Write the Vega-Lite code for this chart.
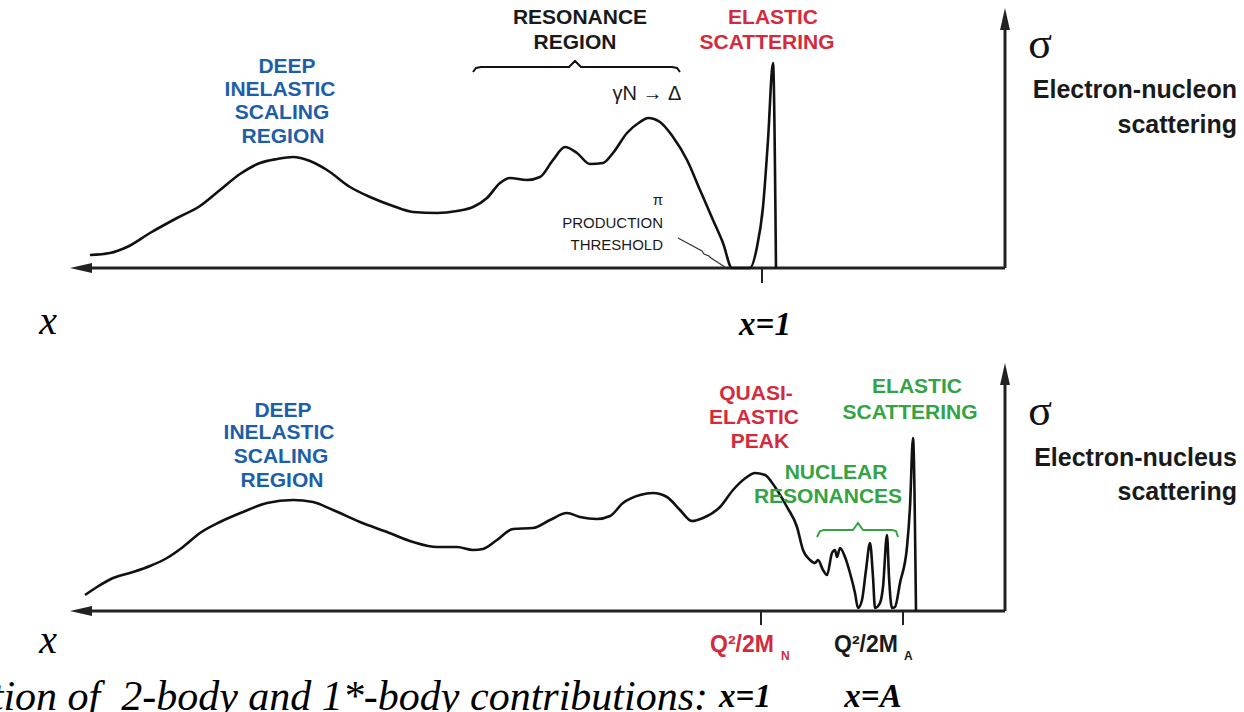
{
  "$schema": "https://vega.github.io/schema/vega-lite/v6.json",
  "padding": 0,
  "spacing": 0,
  "background": "white",
  "config": {"view": {"stroke": null}, "concat": {"spacing": 0}},
  "vconcat": [
    {
      "width": 1244,
      "height": 345,
      "encoding": {
        "x": {"field": "x", "type": "quantitative", "scale": {"domain": [0, 1244], "nice": false, "zero": false}, "axis": null},
        "y": {"field": "y", "type": "quantitative", "scale": {"domain": [0, 345], "nice": false, "zero": false}, "axis": null}
      },
      "layer": [
        {
          "data": {"values": [
            {"x": 82, "y": 77, "x2": 1005, "y2": 77},
            {"x": 1005, "y": 77, "x2": 1005, "y2": 326}
          ]},
          "mark": {"type": "rule", "color": "#222", "strokeWidth": 3},
          "encoding": {"x2": {"field": "x2"}, "y2": {"field": "y2"}}
        },
        {
          "data": {"values": [
            {"x": 762, "y": 77, "x2": 762, "y2": 62}
          ]},
          "mark": {"type": "rule", "color": "#222", "strokeWidth": 2},
          "encoding": {"x2": {"field": "x2"}, "y2": {"field": "y2"}}
        },
        {
          "data": {"values": [
            {"x": 81, "y": 77, "dir": "left"},
            {"x": 1005, "y": 326, "dir": "up"}
          ]},
          "mark": {"type": "point", "filled": true, "color": "#222", "opacity": 1, "size": 484},
          "encoding": {
            "shape": {"field": "dir", "type": "nominal", "scale": {"domain": ["left", "up"], "range": ["M-1,0L1,-0.45L1,0.45Z", "M0,-1L-0.45,1L0.45,1Z"]}, "legend": null}
          }
        },
        {
          "data": {"values": [
            {"x": 90, "y": 90}, {"x": 110, "y": 92}, {"x": 127, "y": 98}, {"x": 150, "y": 112},
            {"x": 177, "y": 127}, {"x": 200, "y": 139}, {"x": 220, "y": 155}, {"x": 240, "y": 171},
            {"x": 260, "y": 182}, {"x": 277, "y": 186}, {"x": 293, "y": 188}, {"x": 310, "y": 184},
            {"x": 327, "y": 175}, {"x": 350, "y": 158}, {"x": 370, "y": 148}, {"x": 393, "y": 139},
            {"x": 413, "y": 133}, {"x": 437, "y": 132}, {"x": 457, "y": 134}, {"x": 473, "y": 138},
            {"x": 487, "y": 147}, {"x": 500, "y": 162}, {"x": 510, "y": 167}, {"x": 527, "y": 165},
            {"x": 540, "y": 168}, {"x": 553, "y": 185}, {"x": 565, "y": 198}, {"x": 577, "y": 192},
            {"x": 590, "y": 181}, {"x": 603, "y": 182}, {"x": 613, "y": 192}, {"x": 627, "y": 212},
            {"x": 640, "y": 223}, {"x": 648, "y": 227}, {"x": 660, "y": 223}, {"x": 673, "y": 208},
            {"x": 687, "y": 185}, {"x": 700, "y": 155}, {"x": 713, "y": 125}, {"x": 723, "y": 102},
            {"x": 732, "y": 77}, {"x": 750, "y": 77}, {"x": 757, "y": 98}, {"x": 763, "y": 138},
            {"x": 768, "y": 205}, {"x": 773, "y": 282}, {"x": 776, "y": 77}
          ]},
          "mark": {"type": "line", "color": "#111", "strokeWidth": 2.6, "strokeJoin": "round", "interpolate": "monotone"}
        },
        {
          "data": {"values": [
            {"x": 473, "y": 273}, {"x": 476, "y": 277}, {"x": 481, "y": 278}, {"x": 569, "y": 278},
            {"x": 575, "y": 284}, {"x": 581, "y": 278}, {"x": 672, "y": 278}, {"x": 677, "y": 277},
            {"x": 680, "y": 273}
          ]},
          "mark": {"type": "line", "color": "#111", "strokeWidth": 2}
        },
        {
          "data": {"values": [
            {"x": 678, "y": 107}, {"x": 702, "y": 94}, {"x": 704, "y": 91}, {"x": 709, "y": 89},
            {"x": 711, "y": 87}, {"x": 725, "y": 78}
          ]},
          "mark": {"type": "line", "color": "#333", "strokeWidth": 1.2}
        },
        {
          "data": {"values": [
            {"x": 287, "y": 278, "t": "DEEP", "k": "dis"},
            {"x": 280, "y": 255, "t": "INELASTIC", "k": "dis"},
            {"x": 282, "y": 232, "t": "SCALING", "k": "dis"},
            {"x": 283, "y": 208, "t": "REGION", "k": "dis"},
            {"x": 580, "y": 327, "t": "RESONANCE", "k": "res"},
            {"x": 575, "y": 302, "t": "REGION", "k": "res"},
            {"x": 773, "y": 327, "t": "ELASTIC", "k": "el"},
            {"x": 767, "y": 302, "t": "SCATTERING", "k": "el"}
          ]},
          "mark": {"type": "text", "font": "Liberation Sans", "fontWeight": "bold", "fontSize": 21, "align": "center", "baseline": "middle"},
          "encoding": {
            "text": {"field": "t"},
            "color": {"field": "k", "type": "nominal", "scale": {"domain": ["dis", "res", "el", "qe", "nuc", "n", "a"], "range": ["#1d5ea8", "#1a1a1a", "#d42a3c", "#d42a3c", "#33a345", "#d42a3c", "#1a1a1a"]}, "legend": null}
          }
        },
        {
          "data": {"values": [{"x": 647, "y": 251, "t": "γN → Δ"}]},
          "mark": {"type": "text", "font": "Liberation Sans", "fontSize": 20, "align": "center", "baseline": "middle", "color": "#1a1a1a"},
          "encoding": {"text": {"field": "t"}}
        },
        {
          "data": {"values": [
            {"x": 663, "y": 145, "t": "π"},
            {"x": 663, "y": 122, "t": "PRODUCTION"},
            {"x": 663, "y": 100, "t": "THRESHOLD"}
          ]},
          "mark": {"type": "text", "font": "Liberation Sans", "fontSize": 15, "align": "right", "baseline": "middle", "color": "#1a1a1a"},
          "encoding": {"text": {"field": "t"}}
        },
        {
          "data": {"values": [{"x": 1040, "y": 300, "t": "σ"}]},
          "mark": {"type": "text", "font": "Liberation Serif", "fontSize": 44, "align": "center", "baseline": "middle", "color": "#111"},
          "encoding": {"text": {"field": "t"}}
        },
        {
          "data": {"values": [
            {"x": 1237, "y": 255, "t": "Electron-nucleon"},
            {"x": 1237, "y": 220, "t": "scattering"}
          ]},
          "mark": {"type": "text", "font": "Liberation Sans", "fontWeight": "bold", "fontSize": 25, "align": "right", "baseline": "middle", "color": "#1a1a1a"},
          "encoding": {"text": {"field": "t"}}
        },
        {
          "data": {"values": [{"x": 48, "y": 23, "t": "x"}]},
          "mark": {"type": "text", "font": "Liberation Serif", "fontStyle": "italic", "fontSize": 40, "align": "center", "baseline": "middle", "color": "#000"},
          "encoding": {"text": {"field": "t"}}
        },
        {
          "data": {"values": [{"x": 765, "y": 20, "t": "x=1"}]},
          "mark": {"type": "text", "font": "Liberation Serif", "fontStyle": "italic", "fontWeight": "bold", "fontSize": 33, "align": "center", "baseline": "middle", "color": "#000"},
          "encoding": {"text": {"field": "t"}}
        }
      ]
    },
    {
      "width": 1244,
      "height": 367,
      "encoding": {
        "x": {"field": "x", "type": "quantitative", "scale": {"domain": [0, 1244], "nice": false, "zero": false}, "axis": null},
        "y": {"field": "y", "type": "quantitative", "scale": {"domain": [0, 367], "nice": false, "zero": false}, "axis": null}
      },
      "layer": [
        {
          "data": {"values": [
            {"x": 82, "y": 101, "x2": 1005, "y2": 101},
            {"x": 1005, "y": 101, "x2": 1005, "y2": 336}
          ]},
          "mark": {"type": "rule", "color": "#222", "strokeWidth": 3},
          "encoding": {"x2": {"field": "x2"}, "y2": {"field": "y2"}}
        },
        {
          "data": {"values": [
            {"x": 761, "y": 101, "x2": 761, "y2": 87},
            {"x": 903, "y": 101, "x2": 903, "y2": 87}
          ]},
          "mark": {"type": "rule", "color": "#222", "strokeWidth": 2},
          "encoding": {"x2": {"field": "x2"}, "y2": {"field": "y2"}}
        },
        {
          "data": {"values": [
            {"x": 81, "y": 101, "dir": "left"},
            {"x": 1005, "y": 338, "dir": "up"}
          ]},
          "mark": {"type": "point", "filled": true, "color": "#222", "opacity": 1, "size": 484},
          "encoding": {
            "shape": {"field": "dir", "type": "nominal", "scale": {"domain": ["left", "up"], "range": ["M-1,0L1,-0.45L1,0.45Z", "M0,-1L-0.45,1L0.45,1Z"]}, "legend": null}
          }
        },
        {
          "data": {"values": [
            {"x": 85, "y": 117}, {"x": 97, "y": 125}, {"x": 113, "y": 134}, {"x": 133, "y": 140},
            {"x": 150, "y": 146}, {"x": 167, "y": 154}, {"x": 183, "y": 165}, {"x": 200, "y": 179},
            {"x": 220, "y": 190}, {"x": 243, "y": 200}, {"x": 267, "y": 209}, {"x": 293, "y": 212},
            {"x": 313, "y": 210}, {"x": 333, "y": 202}, {"x": 360, "y": 190}, {"x": 387, "y": 180},
            {"x": 413, "y": 170}, {"x": 437, "y": 165}, {"x": 457, "y": 165}, {"x": 473, "y": 162},
            {"x": 483, "y": 163}, {"x": 497, "y": 172}, {"x": 513, "y": 183}, {"x": 533, "y": 184},
            {"x": 550, "y": 192}, {"x": 567, "y": 199}, {"x": 580, "y": 195}, {"x": 597, "y": 193},
            {"x": 610, "y": 196}, {"x": 623, "y": 209}, {"x": 640, "y": 217}, {"x": 653, "y": 219},
            {"x": 667, "y": 215}, {"x": 680, "y": 202}, {"x": 692, "y": 191}, {"x": 703, "y": 194},
            {"x": 720, "y": 205}, {"x": 733, "y": 222}, {"x": 747, "y": 235}, {"x": 755, "y": 239},
            {"x": 765, "y": 237}, {"x": 775, "y": 225}, {"x": 787, "y": 205}, {"x": 797, "y": 185},
            {"x": 803, "y": 162}, {"x": 810, "y": 152}, {"x": 815, "y": 149}, {"x": 818, "y": 152},
            {"x": 823, "y": 142}, {"x": 827, "y": 137}, {"x": 832, "y": 159}, {"x": 835, "y": 162},
            {"x": 837, "y": 155}, {"x": 840, "y": 164}, {"x": 845, "y": 155}, {"x": 850, "y": 139},
            {"x": 855, "y": 119}, {"x": 858, "y": 104}, {"x": 862, "y": 112}, {"x": 866, "y": 142},
            {"x": 870, "y": 169}, {"x": 873, "y": 135}, {"x": 875, "y": 104}, {"x": 880, "y": 109},
            {"x": 883, "y": 125}, {"x": 887, "y": 177}, {"x": 889, "y": 135}, {"x": 892, "y": 104},
            {"x": 895, "y": 105}, {"x": 900, "y": 129}, {"x": 907, "y": 165}, {"x": 910, "y": 205},
            {"x": 913, "y": 274}, {"x": 916, "y": 101}
          ]},
          "mark": {"type": "line", "color": "#111", "strokeWidth": 2.6, "strokeJoin": "round", "interpolate": "monotone"}
        },
        {
          "data": {"values": [
            {"x": 817, "y": 175}, {"x": 820, "y": 181}, {"x": 824, "y": 182}, {"x": 853, "y": 182},
            {"x": 858, "y": 189}, {"x": 863, "y": 182}, {"x": 892, "y": 182}, {"x": 896, "y": 181},
            {"x": 898, "y": 175}
          ]},
          "mark": {"type": "line", "color": "#33a345", "strokeWidth": 2}
        },
        {
          "data": {"values": [
            {"x": 283, "y": 301, "t": "DEEP", "k": "dis"},
            {"x": 279, "y": 279, "t": "INELASTIC", "k": "dis"},
            {"x": 281, "y": 255, "t": "SCALING", "k": "dis"},
            {"x": 282, "y": 231, "t": "REGION", "k": "dis"},
            {"x": 756, "y": 318, "t": "QUASI-", "k": "qe"},
            {"x": 754, "y": 294, "t": "ELASTIC", "k": "qe"},
            {"x": 760, "y": 270, "t": "PEAK", "k": "qe"},
            {"x": 836, "y": 239, "t": "NUCLEAR", "k": "nuc"},
            {"x": 828, "y": 215, "t": "RESONANCES", "k": "nuc"},
            {"x": 917, "y": 325, "t": "ELASTIC", "k": "nuc"},
            {"x": 910, "y": 299, "t": "SCATTERING", "k": "nuc"}
          ]},
          "mark": {"type": "text", "font": "Liberation Sans", "fontWeight": "bold", "fontSize": 21, "align": "center", "baseline": "middle"},
          "encoding": {
            "text": {"field": "t"},
            "color": {"field": "k", "type": "nominal", "scale": {"domain": ["dis", "res", "el", "qe", "nuc", "n", "a"], "range": ["#1d5ea8", "#1a1a1a", "#d42a3c", "#d42a3c", "#33a345", "#d42a3c", "#1a1a1a"]}, "legend": null}
          }
        },
        {
          "data": {"values": [
            {"x": 742, "y": 67, "t": "Q²/2M", "k": "n"},
            {"x": 866, "y": 67, "t": "Q²/2M", "k": "a"}
          ]},
          "mark": {"type": "text", "font": "Liberation Sans", "fontWeight": "bold", "fontSize": 23, "align": "center", "baseline": "middle"},
          "encoding": {
            "text": {"field": "t"},
            "color": {"field": "k", "type": "nominal", "scale": {"domain": ["dis", "res", "el", "qe", "nuc", "n", "a"], "range": ["#1d5ea8", "#1a1a1a", "#d42a3c", "#d42a3c", "#33a345", "#d42a3c", "#1a1a1a"]}, "legend": null}
          }
        },
        {
          "data": {"values": [
            {"x": 781, "y": 56, "t": "N", "k": "n"},
            {"x": 904, "y": 56, "t": "A", "k": "a"}
          ]},
          "mark": {"type": "text", "font": "Liberation Sans", "fontWeight": "bold", "fontSize": 12, "align": "left", "baseline": "middle"},
          "encoding": {
            "text": {"field": "t"},
            "color": {"field": "k", "type": "nominal", "scale": {"domain": ["dis", "res", "el", "qe", "nuc", "n", "a"], "range": ["#1d5ea8", "#1a1a1a", "#d42a3c", "#d42a3c", "#33a345", "#d42a3c", "#1a1a1a"]}, "legend": null}
          }
        },
        {
          "data": {"values": [{"x": 1040, "y": 300, "t": "σ"}]},
          "mark": {"type": "text", "font": "Liberation Serif", "fontSize": 44, "align": "center", "baseline": "middle", "color": "#111"},
          "encoding": {"text": {"field": "t"}}
        },
        {
          "data": {"values": [
            {"x": 1237, "y": 254, "t": "Electron-nucleus"},
            {"x": 1237, "y": 220, "t": "scattering"}
          ]},
          "mark": {"type": "text", "font": "Liberation Sans", "fontWeight": "bold", "fontSize": 25, "align": "right", "baseline": "middle", "color": "#1a1a1a"},
          "encoding": {"text": {"field": "t"}}
        },
        {
          "data": {"values": [{"x": 48, "y": 71, "t": "x"}]},
          "mark": {"type": "text", "font": "Liberation Serif", "fontStyle": "italic", "fontSize": 40, "align": "center", "baseline": "middle", "color": "#000"},
          "encoding": {"text": {"field": "t"}}
        },
        {
          "data": {"values": [
            {"x": 745, "y": 15, "t": "x=1"},
            {"x": 873, "y": 15, "t": "x=A"}
          ]},
          "mark": {"type": "text", "font": "Liberation Serif", "fontStyle": "italic", "fontWeight": "bold", "fontSize": 33, "align": "center", "baseline": "middle", "color": "#000"},
          "encoding": {"text": {"field": "t"}}
        },
        {
          "data": {"values": [{"x": 708, "y": 2, "t": "tion of\u00a0 2-body and 1*-body contributions:"}]},
          "mark": {"type": "text", "clip": true, "font": "Liberation Serif", "fontStyle": "italic", "fontSize": 42, "align": "right", "baseline": "alphabetic", "color": "#000"},
          "encoding": {"text": {"field": "t"}}
        }
      ]
    }
  ]
}
